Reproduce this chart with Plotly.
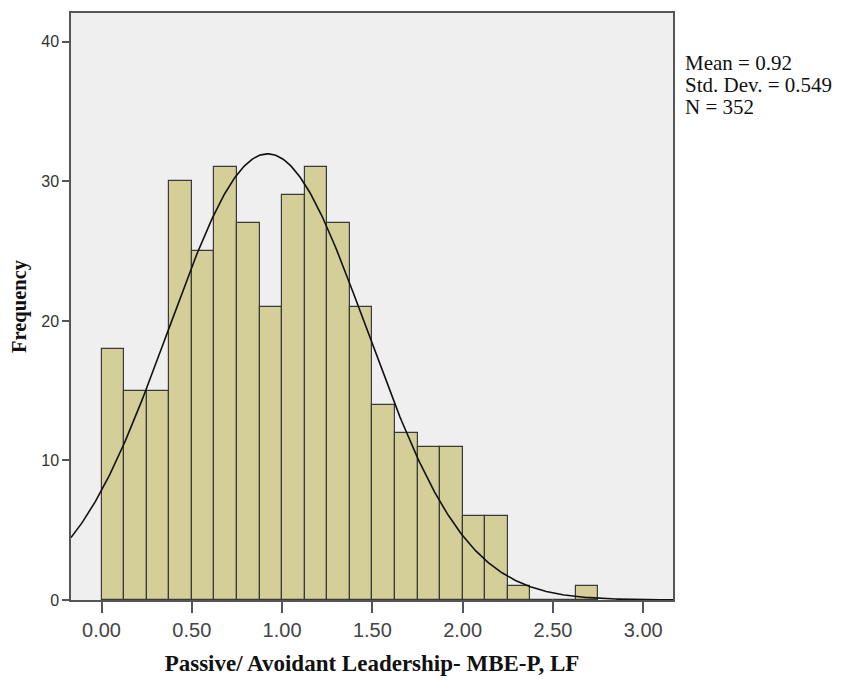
import numpy as np
import plotly.graph_objects as go

bin_starts = [0.000, 0.125, 0.250, 0.375, 0.500, 0.625, 0.750, 0.875, 1.000, 1.125,
              1.250, 1.375, 1.500, 1.625, 1.750, 1.875, 2.000, 2.125, 2.250, 2.375,
              2.500, 2.625]
counts = [18, 15, 15, 30, 25, 31, 27, 21, 29, 31, 27, 21, 14, 12, 11, 11, 6, 6, 1, 0, 0, 1]
bin_width = 0.125
mean_val = 0.92
std_val = 0.549
n_val = 352
x_ticks = [0.0, 0.5, 1.0, 1.5, 2.0, 2.5, 3.0]
x_tick_labels = ["0.00", "0.50", "1.00", "1.50", "2.00", "2.50", "3.00"]
y_ticks = [0, 10, 20, 30, 40]
stat_lines = [f"Mean = {mean_val:.2f}", f"Std. Dev. = {std_val:.3f}", f"N = {n_val}"]

centers = [s + bin_width / 2 for s in bin_starts]

xr = [-0.169, 3.165]
xs = np.linspace(xr[0], xr[1], 400)
ys = n_val * bin_width * np.exp(-0.5 * ((xs - mean_val) / std_val) ** 2) / (std_val * np.sqrt(2 * np.pi))

SERIF = "Liberation Serif, Times New Roman, serif"
SANS = "Liberation Sans, Arial, sans-serif"

fig = go.Figure()
fig.add_trace(go.Bar(
    x=centers, y=counts, width=bin_width,
    marker=dict(color="#D4CF98", line=dict(color="#3a3a3a", width=1.2)),
    showlegend=False, hoverinfo="x+y",
))
fig.add_trace(go.Scatter(
    x=xs, y=ys, mode="lines", line=dict(color="#111111", width=1.6),
    showlegend=False, hoverinfo="skip",
))

fig.update_layout(
    width=842, height=674,
    margin=dict(l=63, r=177, t=3, b=82),
    paper_bgcolor="white", plot_bgcolor="#EFEFEF",
    bargap=0,
    xaxis=dict(
        range=xr, tickvals=x_ticks, ticktext=x_tick_labels,
        showgrid=False, zeroline=False, showline=True, mirror=True,
        linecolor="#555555", linewidth=1.5,
        ticks="outside", ticklen=11, tickwidth=1.5, tickcolor="#555555",
        tickfont=dict(family=SANS, size=20, color="#444444"),
        title=dict(text="<b>Passive/ Avoidant Leadership- MBE-P, LF</b>",
                   font=dict(family=SERIF, size=23, color="#111111"),
                   standoff=15),
    ),
    yaxis=dict(
        range=[0, 42.07], tickvals=y_ticks,
        showgrid=False, zeroline=False, showline=True, mirror=True,
        linecolor="#555555", linewidth=1.5,
        ticks="outside", ticklen=7, tickwidth=1.5, tickcolor="#555555",
        tickfont=dict(family=SANS, size=16, color="#333333"),
        title=dict(text="<b>Frequency</b>",
                   font=dict(family=SERIF, size=20.5, color="#111111"),
                   standoff=14),
    ),
)

stat_y = [0.914, 0.877, 0.840]
for txt, yy in zip(stat_lines, stat_y):
    fig.add_annotation(
        xref="paper", yref="paper", x=1.017, y=yy, xanchor="left", yanchor="middle",
        align="left", showarrow=False, text=txt,
        font=dict(family=SERIF, size=21, color="#111111"),
    )

fig.write_html("out.html")
